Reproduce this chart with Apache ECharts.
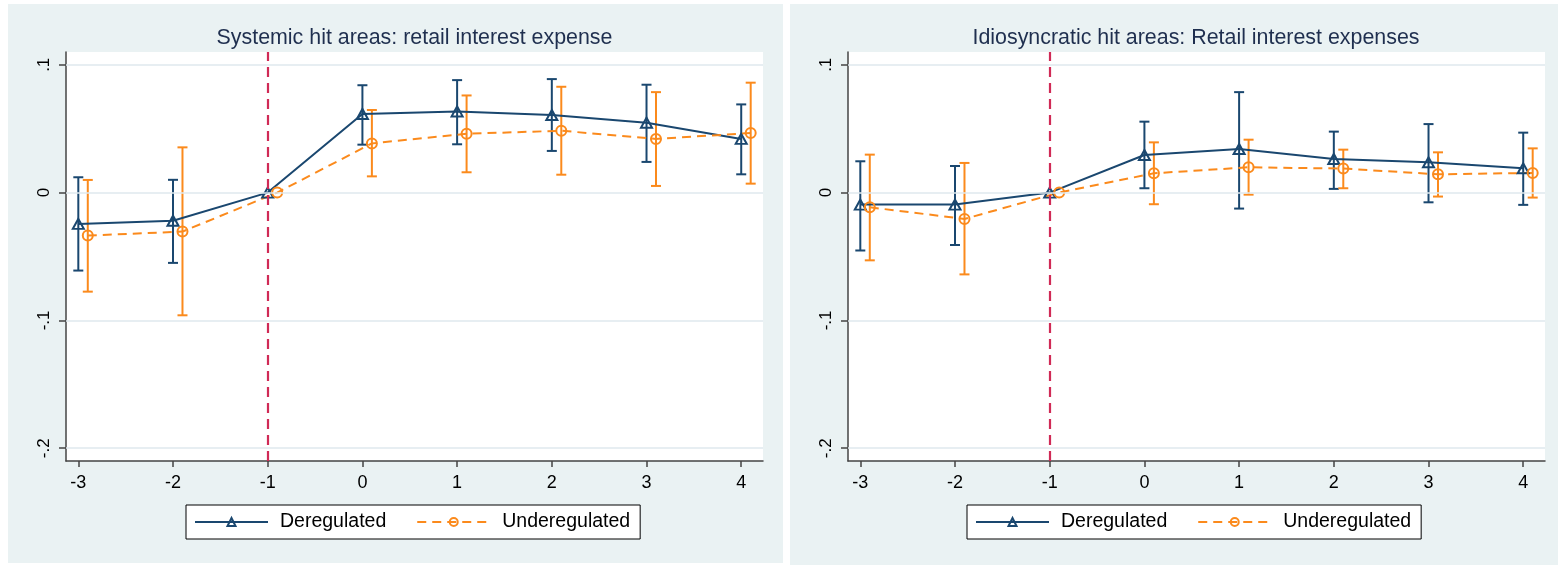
<!DOCTYPE html>
<html>
<head>
<meta charset="utf-8">
<script src="https://cdn.jsdelivr.net/npm/echarts@6/dist/echarts.min.js"></script>
<style>
html,body{margin:0;padding:0;background:#fff;}
#chart{width:1558px;height:565px;}
</style>
</head>
<body>
<div id="chart"></div>
<script>
// ---------- data ----------
const periods = [-3, -2, -1, 0, 1, 2, 3, 4];
const xTicks = [-3, -2, -1, 0, 1, 2, 3, 4];
const yTicks = [-0.2, -0.1, 0, 0.1];
const yTickLabels = ['-.2', '-.1', '0', '.1'];
const eventPeriod = -1;
const underOffset = 0.1;   // horizontal offset of second series (as in source)
const seriesNames = ['Deregulated', 'Underegulated'];
const panelTitles = ['Systemic hit areas: retail interest expense', 'Idiosyncratic hit areas: Retail interest expenses'];

// Left panel: systemic
const sysDeregCoef = [-0.0245, -0.022, 0, 0.0615, 0.0635, 0.0607, 0.0547, 0.042];
const sysDeregLow  = [-0.061, -0.055, null, 0.0375, 0.0378, 0.0326, 0.024, 0.0143];
const sysDeregHigh = [0.012, 0.010, null, 0.084, 0.088, 0.0888, 0.0844, 0.069];
const sysUnderCoef = [-0.0336, -0.0305, 0, 0.0385, 0.046, 0.0484, 0.042, 0.0466];
const sysUnderLow  = [-0.0775, -0.096, null, 0.0127, 0.0159, 0.014, 0.0052, 0.007];
const sysUnderHigh = [0.0099, 0.0354, null, 0.0646, 0.076, 0.0828, 0.0786, 0.086];

// Right panel: idiosyncratic
const idioDeregCoef = [-0.0094, -0.0094, 0, 0.0294, 0.0341, 0.0263, 0.0237, 0.019];
const idioDeregLow  = [-0.0453, -0.041, null, 0.0034, -0.0125, 0.0029, -0.0076, -0.0096];
const idioDeregHigh = [0.0245, 0.0208, null, 0.0555, 0.0786, 0.0477, 0.0536, 0.0469];
const idioUnderCoef = [-0.0115, -0.0206, 0, 0.0151, 0.0198, 0.0188, 0.0143, 0.0154];
const idioUnderLow  = [-0.053, -0.064, null, -0.0091, -0.0016, 0.0034, -0.0031, -0.0039];
const idioUnderHigh = [0.0297, 0.0232, null, 0.0393, 0.0414, 0.0336, 0.0315, 0.0346];

// ---------- styling ----------
const FONT = '"Liberation Sans", Arial, sans-serif';
const NAVY = '#1a476f';
const ORANGE = '#fb8a1c';
const RED = '#d02a56';
const BG = '#eaf2f3';
const GRIDC = '#dfe8ee';
const AXC = '#444';

const panels = [
  {title: panelTitles[0], grid: {left: 66, top: 52, width: 697, height: 409}, center: 409.5, legendLeft: 186,
   d: [sysDeregCoef, sysDeregLow, sysDeregHigh], u: [sysUnderCoef, sysUnderLow, sysUnderHigh]},
  {title: panelTitles[1], grid: {left: 848, top: 52, width: 697, height: 409}, center: 1191, legendLeft: 967,
   d: [idioDeregCoef, idioDeregLow, idioDeregHigh], u: [idioUnderCoef, idioUnderLow, idioUnderHigh]}
];

function lineData(coef, off) {
  return periods.map((p, i) => [p + off, coef[i]]);
}
function errData(low, high, off) {
  const out = [];
  periods.forEach((p, i) => { if (low[i] != null && high[i] != null) out.push([p + off, low[i], high[i]]); });
  return out;
}
function errRender(color) {
  return function (params, api) {
    const x = api.value(0), lo = api.value(1), hi = api.value(2);
    const a = api.coord([x, lo]), b = api.coord([x, hi]);
    const h = 5;
    const st = {stroke: color, lineWidth: 2, fill: null};
    return {type: 'group', children: [
      {type: 'line', shape: {x1: a[0], y1: a[1], x2: b[0], y2: b[1]}, style: st},
      {type: 'line', shape: {x1: a[0] - h, y1: a[1], x2: a[0] + h, y2: a[1]}, style: st},
      {type: 'line', shape: {x1: b[0] - h, y1: b[1], x2: b[0] + h, y2: b[1]}, style: st}
    ]};
  };
}

const option = {
  animation: false,
  backgroundColor: '#fff',
  textStyle: {fontFamily: FONT},
  graphic: [
    {type: 'rect', z: -10, shape: {x: 8, y: 4, width: 775, height: 559}, style: {fill: BG}},
    {type: 'rect', z: -10, shape: {x: 790, y: 4, width: 768, height: 561}, style: {fill: BG}}
  ],
  title: panels.map(p => ({
    text: p.title, left: p.center, top: 23, textAlign: 'center',
    textStyle: {fontFamily: FONT, fontSize: 21.4, fontWeight: 'normal', color: '#1f2f4f'}
  })),
  legend: panels.map(p => ({
    data: seriesNames, left: p.legendLeft, top: 505, orient: 'horizontal',
    padding: [7, 10, 7, 8], itemGap: 30, itemWidth: 73, itemHeight: 10,
    backgroundColor: '#fff', borderColor: '#000', borderWidth: 1, borderRadius: 0,
    textStyle: {fontFamily: FONT, fontSize: 19.5, color: '#000', padding: [0, 0, 0, 7]},
    selectedMode: false
  })),
  grid: panels.map(p => Object.assign({show: true, backgroundColor: '#fff', borderWidth: 0, containLabel: false}, p.grid)),
  xAxis: panels.map((p, i) => ({
    type: 'value', gridIndex: i, min: -3.13, max: 4.23,
    axisLine: {show: true, onZero: false, lineStyle: {color: AXC, width: 1.5}},
    axisTick: {show: true, length: 6, customValues: xTicks, lineStyle: {color: AXC, width: 1.5}},
    axisLabel: {customValues: xTicks, margin: 13, fontFamily: FONT, fontSize: 18, color: '#000'},
    splitLine: {show: false}
  })),
  yAxis: panels.map((p, i) => ({
    type: 'value', gridIndex: i, min: -0.21, max: 0.11,
    axisLine: {show: true, onZero: false, lineStyle: {color: AXC, width: 1.5}},
    axisTick: {show: true, length: 7, customValues: yTicks, lineStyle: {color: AXC, width: 1.5}},
    axisLabel: {customValues: yTicks, rotate: 90, margin: 13, fontFamily: FONT, fontSize: 17, color: '#000',
      formatter: v => { const k = yTicks.findIndex(t => Math.abs(t - v) < 1e-9); return k >= 0 ? yTickLabels[k] : ''; }},
    splitLine: {show: false}
  })),
  series: []
};

panels.forEach((p, i) => {
  option.series.push({
    type: 'line', name: seriesNames[0], xAxisIndex: i, yAxisIndex: i, z: 4,
    data: lineData(p.d[0], 0),
    symbol: 'triangle', symbolSize: [11, 10],
    itemStyle: {color: 'rgba(255,255,255,0)', borderColor: NAVY, borderWidth: 2},
    lineStyle: {color: NAVY, width: 2}
  });
  option.series.push({
    type: 'line', name: seriesNames[1], xAxisIndex: i, yAxisIndex: i, z: 4,
    data: lineData(p.u[0], underOffset),
    symbol: 'circle', symbolSize: 10,
    itemStyle: {color: 'rgba(255,255,255,0)', borderColor: ORANGE, borderWidth: 2},
    lineStyle: {color: ORANGE, width: 2, type: [9, 6]}
  });
  // gridlines + event line
  option.series.push({
    type: 'scatter', name: 'refs' + i, xAxisIndex: i, yAxisIndex: i, data: [], silent: true, z: 1,
    markLine: {
      silent: true, symbol: ['none', 'none'], label: {show: false}, animation: false,
      data: yTicks.map(t => ({yAxis: t, lineStyle: {color: GRIDC, width: 1.5, type: 'solid'}}))
        .concat([{xAxis: eventPeriod, lineStyle: {color: RED, width: 2.2, type: [10, 6]}}])
    }
  });
  option.series.push({
    type: 'custom', name: seriesNames[0] + ' CI', xAxisIndex: i, yAxisIndex: i, z: 3,
    renderItem: errRender(NAVY), data: errData(p.d[1], p.d[2], 0), encode: {x: 0, y: [1, 2]},
    itemStyle: {color: NAVY}
  });
  option.series.push({
    type: 'custom', name: seriesNames[1] + ' CI', xAxisIndex: i, yAxisIndex: i, z: 3,
    renderItem: errRender(ORANGE), data: errData(p.u[1], p.u[2], underOffset), encode: {x: 0, y: [1, 2]},
    itemStyle: {color: ORANGE}
  });
});

const chart = echarts.init(document.getElementById('chart'), null, {renderer: 'canvas'});
chart.setOption(option);
</script>
</body>
</html>
